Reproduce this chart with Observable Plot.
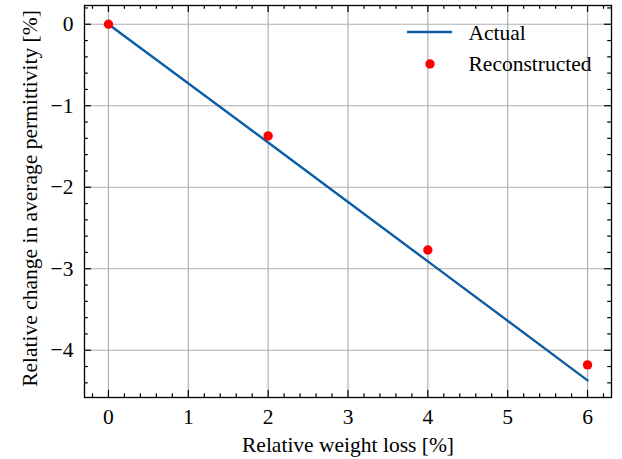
<!DOCTYPE html>
<html>
<head>
<meta charset="utf-8">
<script src="https://cdn.jsdelivr.net/npm/d3@7"></script>
<script src="https://cdn.jsdelivr.net/npm/@observablehq/plot@0.6"></script>
<style>
  html, body { margin: 0; padding: 0; background: #fff; }
  #chart svg { display: block; }
</style>
</head>
<body>
<div id="chart"></div>
<script>
// ---- data ----
const actualX = [0, 2, 4, 6];
const actualY = [0, -1.45, -2.91, -4.37];
const reconX = [0, 2, 4, 6];
const reconY = [0, -1.37, -2.77, -4.18];
const xLimits = [-0.3, 6.3];
const yLimits = [-4.58, 0.23];
const xMajorTicks = [0, 1, 2, 3, 4, 5, 6];
const yMajorTicks = [0, -1, -2, -3, -4];
const xMinorTicks = [-0.2, 0.2, 0.4, 0.6, 0.8, 1.2, 1.4, 1.6, 1.8, 2.2, 2.4, 2.6, 2.8, 3.2, 3.4, 3.6, 3.8, 4.2, 4.4, 4.6, 4.8, 5.2, 5.4, 5.6, 5.8, 6.2];
const yMinorTicks = [0.2, -0.2, -0.4, -0.6, -0.8, -1.2, -1.4, -1.6, -1.8, -2.2, -2.4, -2.6, -2.8, -3.2, -3.4, -3.6, -3.8, -4.2, -4.4];
const seriesNames = ["Actual", "Reconstructed"];
const xLabel = "Relative weight loss [%]";
const yLabel = "Relative change in average permittivity [%]";

const actual = actualX.map((x, i) => ({x, y: actualY[i]}));
const recon = reconX.map((x, i) => ({x, y: reconY[i]}));

// ---- style ----
const W = 622, H = 459;
const mL = 84, mR = 11, mT = 5, mB = 62;
const pw = W - mL - mR, ph = H - mT - mB;
const blue = "#0C5DA5", red = "#ff0000", gridColor = "#b0b0b0";
const font = "Liberation Serif";
const fs = 21.5;
const majorLen = 7, minorLen = 3.8, tickW = 1.2;
const fmt = d => d < 0 ? "\u2212" + Math.abs(d) : String(d);

const chart = Plot.plot({
  width: W, height: H,
  marginLeft: mL, marginRight: mR, marginTop: mT, marginBottom: mB,
  style: {fontFamily: font, fontSize: fs + "px", background: "#fff", color: "#000"},
  x: {domain: xLimits, axis: null},
  y: {domain: yLimits, axis: null},
  marks: [
    Plot.gridX(xMajorTicks, {stroke: gridColor, strokeOpacity: 1, strokeWidth: 1.2}),
    Plot.gridY(yMajorTicks, {stroke: gridColor, strokeOpacity: 1, strokeWidth: 1.2}),
    Plot.line(actual, {x: "x", y: "y", stroke: blue, strokeWidth: 2.4}),
    Plot.dot(recon, {x: "x", y: "y", r: 4.7, fill: red, stroke: "none"}),
    Plot.frame({stroke: "#000", strokeWidth: 1.3}),
    // inward ticks, bottom/top
    Plot.tickX(xMajorTicks, {x: d => d, insetTop: ph - majorLen, stroke: "#000", strokeWidth: tickW}),
    Plot.tickX(xMajorTicks, {x: d => d, insetBottom: ph - majorLen, stroke: "#000", strokeWidth: tickW}),
    Plot.tickX(xMinorTicks, {x: d => d, insetTop: ph - minorLen, stroke: "#000", strokeWidth: tickW}),
    Plot.tickX(xMinorTicks, {x: d => d, insetBottom: ph - minorLen, stroke: "#000", strokeWidth: tickW}),
    // inward ticks, left/right
    Plot.tickY(yMajorTicks, {y: d => d, insetRight: pw - majorLen, stroke: "#000", strokeWidth: tickW}),
    Plot.tickY(yMajorTicks, {y: d => d, insetLeft: pw - majorLen, stroke: "#000", strokeWidth: tickW}),
    Plot.tickY(yMinorTicks, {y: d => d, insetRight: pw - minorLen, stroke: "#000", strokeWidth: tickW}),
    Plot.tickY(yMinorTicks, {y: d => d, insetLeft: pw - minorLen, stroke: "#000", strokeWidth: tickW}),
    // tick labels
    Plot.axisX(xMajorTicks, {anchor: "bottom", tickSize: 0, tickPadding: 11, tickFormat: fmt, label: null, fontSize: fs}),
    Plot.axisY(yMajorTicks, {anchor: "left", tickSize: 0, tickPadding: 11, tickFormat: fmt, label: null, fontSize: fs}),
    // axis titles
    Plot.text([xLabel], {frameAnchor: "bottom", dy: 48, lineAnchor: "middle", textAnchor: "middle", text: d => d, fontSize: fs}),
    Plot.text([yLabel], {frameAnchor: "left", dx: -54, dy: -3, rotate: -90, lineAnchor: "middle", textAnchor: "middle", text: d => d, fontSize: fs})
  ]
});

// ---- legend (no frame, like matplotlib scienceplots) ----
const svg = d3.select(chart);
const lg = svg.append("g").attr("font-family", font).attr("font-size", fs).attr("text-anchor", "start");
lg.append("line").attr("x1", 407).attr("x2", 452).attr("y1", 32).attr("y2", 32)
  .attr("stroke", blue).attr("stroke-width", 2.4);
lg.append("circle").attr("cx", 430).attr("cy", 64).attr("r", 4.7).attr("fill", red);
lg.append("text").attr("x", 468.5).attr("y", 33.5).attr("dy", "0.32em").attr("text-anchor", "start").text(seriesNames[0]);
lg.append("text").attr("x", 468.5).attr("y", 64).attr("dy", "0.32em").attr("text-anchor", "start").text(seriesNames[1]);

document.getElementById("chart").appendChild(chart);
</script>
</body>
</html>
